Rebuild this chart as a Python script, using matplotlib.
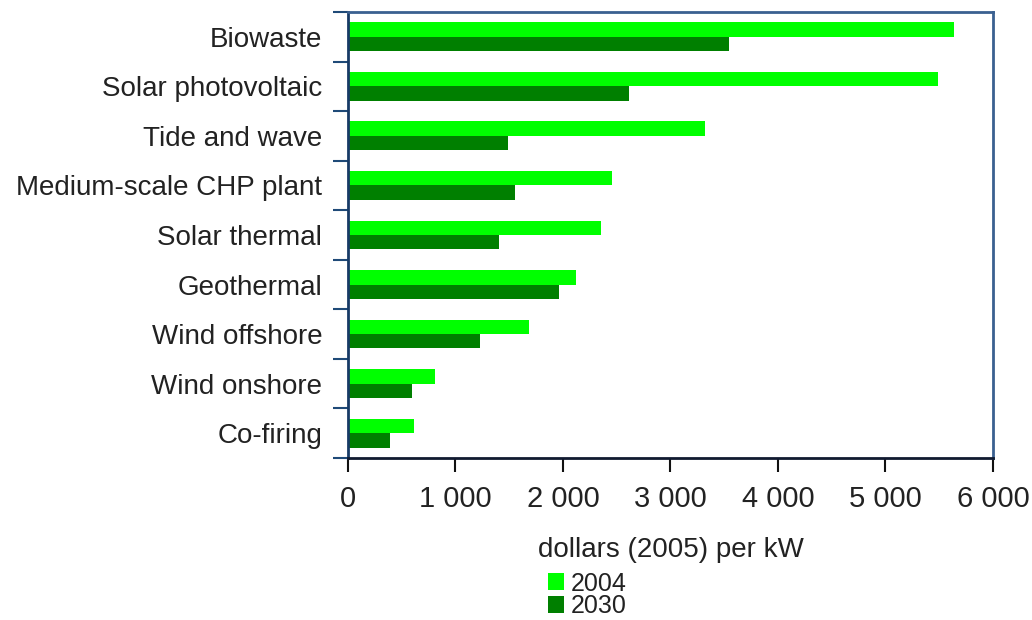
import matplotlib.pyplot as plt
import numpy as np

categories = ["Biowaste", "Solar photovoltaic", "Tide and wave", "Medium-scale CHP plant",
              "Solar thermal", "Geothermal", "Wind offshore", "Wind onshore", "Co-firing"]
cost_2004 = [5640, 5490, 3320, 2455, 2355, 2120, 1685, 810, 615]
cost_2030 = [3545, 2615, 1490, 1555, 1405, 1965, 1230, 595, 390]
xticks = [0, 1000, 2000, 3000, 4000, 5000, 6000]
xtick_labels = ["0", "1 000", "2 000", "3 000", "4 000", "5 000", "6 000"]

plt.rcParams['font.family'] = ['Liberation Sans', 'DejaVu Sans']

fig = plt.figure(figsize=(10.32, 6.2), dpi=100)
ax = fig.add_axes([0.3372, 0.2613, 0.625, 0.7194])

y = np.arange(len(categories))
h = 0.29
ax.barh(y - h / 2, cost_2004, h, color='#00ff00', label='2004')
ax.barh(y + h / 2, cost_2030, h, color='#007f00', label='2030')

ax.set_ylim(len(categories) - 0.5, -0.5)
ax.set_xlim(0, 6000)
ax.set_yticks(y)
ax.set_yticklabels(categories, fontsize=20, color='#222222')
ax.set_yticks(np.arange(len(categories) + 1) - 0.5, minor=True)
ax.tick_params(axis='y', which='major', length=0, pad=18.5)
ax.tick_params(axis='y', which='minor', length=11, width=1.5, color='#1f4a78', direction='out')

ax.set_xticks(xticks)
ax.set_xticklabels(xtick_labels, fontsize=21, color='#222222')
ax.tick_params(axis='x', length=10, width=1.5, color='#111111', pad=9.5)
ax.set_xlabel('dollars (2005) per kW', fontsize=20, color='#222222', labelpad=17.5)

ax.spines['left'].set_color('#173a66')
ax.spines['bottom'].set_color('#101a30')
ax.spines['top'].set_color('#3a6090')
ax.spines['right'].set_color('#3a6090')
for s in ax.spines.values():
    s.set_linewidth(2)

fig.legend(loc='upper center', bbox_to_anchor=(0.569, 0.078), frameon=False,
           prop={'size': 18}, handlelength=0.64, handleheight=0.68,
           handletextpad=0.3, labelspacing=-0.05, borderpad=0, borderaxespad=0,
           labelcolor='#222222')

fig.savefig('out.png', dpi=100)
